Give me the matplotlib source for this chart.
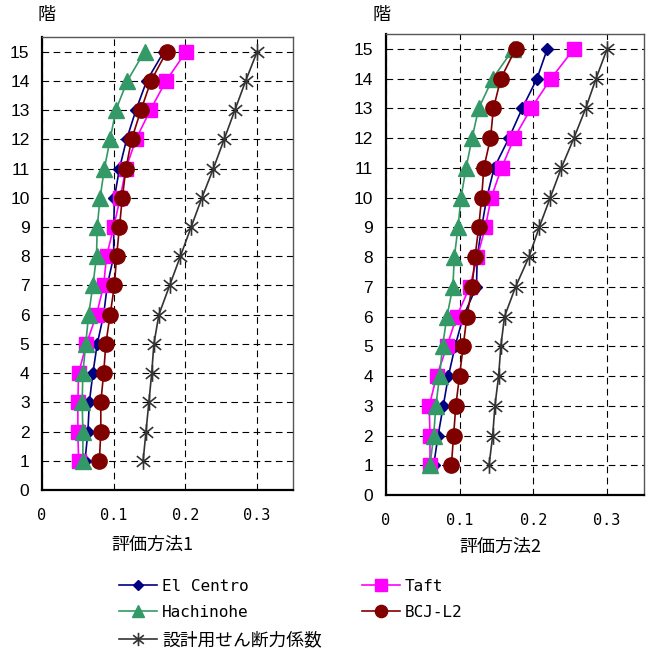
import matplotlib
matplotlib.use("Agg")
import matplotlib.pyplot as plt
from matplotlib.path import Path
import numpy as np

floors = list(range(1, 16))

# 評価方法1
m1_elcentro = [0.060, 0.064, 0.066, 0.071, 0.077, 0.086, 0.091, 0.100, 0.100, 0.101, 0.108, 0.118, 0.131, 0.146, 0.170]
m1_taft     = [0.051, 0.050, 0.050, 0.051, 0.062, 0.076, 0.086, 0.090, 0.100, 0.109, 0.117, 0.131, 0.151, 0.173, 0.201]
m1_hachi    = [0.057, 0.057, 0.056, 0.057, 0.061, 0.065, 0.071, 0.076, 0.077, 0.081, 0.087, 0.095, 0.103, 0.119, 0.143]
m1_bcj      = [0.080, 0.082, 0.082, 0.086, 0.089, 0.095, 0.101, 0.104, 0.108, 0.112, 0.117, 0.125, 0.138, 0.152, 0.174]
m1_design   = [0.141, 0.145, 0.149, 0.153, 0.156, 0.163, 0.178, 0.193, 0.208, 0.223, 0.239, 0.254, 0.269, 0.284, 0.300]

# 評価方法2
m2_elcentro = [0.065, 0.071, 0.078, 0.085, 0.094, 0.105, 0.123, 0.124, 0.130, 0.137, 0.147, 0.167, 0.185, 0.205, 0.219]
m2_taft     = [0.060, 0.060, 0.059, 0.069, 0.083, 0.096, 0.114, 0.124, 0.135, 0.143, 0.157, 0.174, 0.197, 0.224, 0.255]
m2_hachi    = [0.060, 0.065, 0.068, 0.073, 0.077, 0.083, 0.091, 0.093, 0.098, 0.102, 0.109, 0.117, 0.126, 0.145, 0.173]
m2_bcj      = [0.089, 0.092, 0.095, 0.100, 0.105, 0.110, 0.117, 0.121, 0.126, 0.130, 0.133, 0.142, 0.146, 0.156, 0.176]
m2_design   = [0.140, 0.145, 0.148, 0.153, 0.156, 0.161, 0.176, 0.194, 0.208, 0.223, 0.238, 0.255, 0.271, 0.285, 0.300]

series_labels = ["El Centro", "Taft", "Hachinohe", "BCJ-L2", "設計用せん断力係数"]
xticks = [0, 0.1, 0.2, 0.3]
xticklabels = ["0", "0.1", "0.2", "0.3"]
yticks = list(range(0, 16))
xlabels = ["評価方法1", "評価方法2"]

jp = ["Noto Sans CJK JP", "DejaVu Sans"]
mono = ["DejaVu Sans Mono", "Noto Sans CJK JP"]
arial = ["Liberation Sans", "DejaVu Sans"]

# asterisk marker: vertical bar plus an X
star = Path([(0, -1), (0, 1), (-0.8, -0.65), (0.8, 0.65), (-0.8, 0.65), (0.8, -0.65)],
            [Path.MOVETO, Path.LINETO, Path.MOVETO, Path.LINETO, Path.MOVETO, Path.LINETO])

styles = [
    dict(color="#000080", marker="D", markersize=6.5, lw=1.2),
    dict(color="#FF00FF", marker="s", markersize=10, lw=1.2),
    dict(color="#339966", marker="^", markersize=11, lw=1.2),
    dict(color="#800000", marker="o", markersize=11, lw=1.2),
    dict(color="#333333", marker=star, markersize=12, lw=1.2, markeredgewidth=1.2),
]

fig = plt.figure(figsize=(6.48, 6.51), dpi=100)
ax1 = fig.add_axes([42/648, 1-490/651, (293-42)/648, (490-37)/651])
ax2 = fig.add_axes([385.7/648, 1-495/651, (644-385.7)/648, (495-34)/651])

datasets = [
    [m1_elcentro, m1_taft, m1_hachi, m1_bcj, m1_design],
    [m2_elcentro, m2_taft, m2_hachi, m2_bcj, m2_design],
]

handles = []
for ax, data in zip([ax1, ax2], datasets):
    hs = []
    for vals, lab, st in zip(data, series_labels, styles):
        st = dict(st)
        h, = ax.plot(vals, floors, label=lab, color=st.pop("color"), **st)
        hs.append(h)
    handles = hs
    ax.set_xlim(0, 0.35)
    ax.set_ylim(0, 15.5)
    ax.set_xticks(xticks)
    ax.set_xticklabels(xticklabels, family=mono, fontsize=11)
    ax.set_yticks(yticks)
    ax.set_yticklabels([str(t) for t in yticks], family=arial, fontsize=12.5)
    ax.tick_params(axis="x", length=0, pad=13)
    ax.tick_params(axis="y", length=0, pad=9)
    ax.grid(True, color="#000000", linestyle=(0, (6, 4)), linewidth=0.8)
    ax.set_axisbelow(True)
    for s in ["left", "bottom"]:
        ax.spines[s].set_linewidth(1.6)
    for s in ["top", "right"]:
        ax.spines[s].set_linewidth(1.0)
        ax.spines[s].set_color("#555555")

fig.text(152/648, 1-545/651, xlabels[0], family=jp, fontsize=13, ha="center", va="center")
fig.text(500/648, 1-547/651, xlabels[1], family=jp, fontsize=13, ha="center", va="center")
fig.text(46.5/648, 1-15/651, "階", family=jp, fontsize=13, ha="center", va="center")
fig.text(382/648, 1-15/651, "階", family=jp, fontsize=13, ha="center", va="center")

order = [0, 2, 4, 1, 3]
leg = fig.legend([handles[i] for i in order], [series_labels[i] for i in order],
                 loc="upper left", bbox_to_anchor=(119/648, 1-579/651), ncol=2,
                 frameon=False, borderpad=0, borderaxespad=0,
                 handlelength=2.4, handletextpad=0.3, columnspacing=2.5,
                 labelspacing=0.68, prop={"family": mono, "size": 11.5},
                 markerscale=0.8)
leg.get_texts()[2].set_fontproperties({"family": jp, "size": 12.8})

fig.savefig("out.png", dpi=100)
